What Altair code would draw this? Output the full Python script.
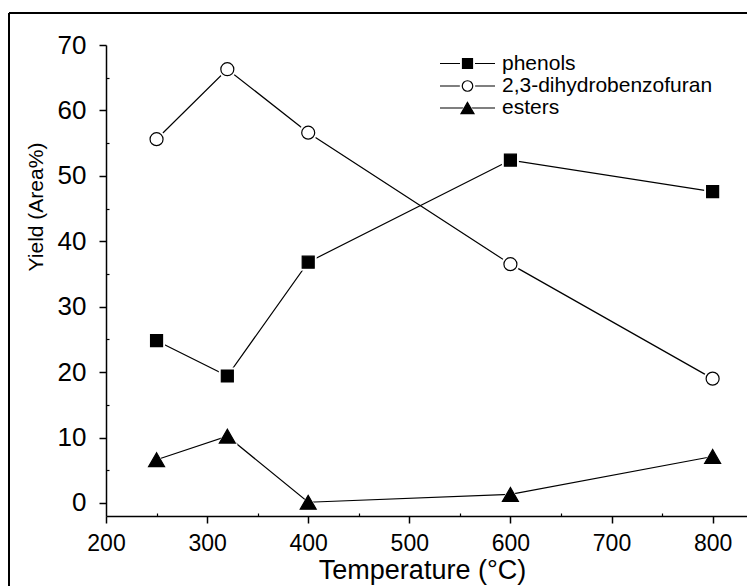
import altair as alt
import pandas as pd

# ---- data ----
temps = [250, 320, 400, 600, 800]
phenols = [24.8, 19.4, 36.8, 52.4, 47.6]
dihydrobenzofuran = [55.6, 66.3, 56.6, 36.5, 19.0]
esters = [6.6, 10.2, 0.1, 1.3, 7.1]
series_names = ["phenols", "2,3-dihydrobenzofuran", "esters"]
x_ticks = [200, 300, 400, 500, 600, 700, 800]
y_ticks = [0, 10, 20, 30, 40, 50, 60, 70]
x_minor = [250, 350, 450, 550, 650, 750]
y_minor = [5, 15, 25, 35, 45, 55, 65]
x_title = "Temperature (°C)"
y_title = "Yield (Area%)"

W, H = 641, 471
FONT = "Liberation Sans"

xs = alt.Scale(domain=[200, 834], nice=False, zero=False)
ys = alt.Scale(domain=[-2, 70], nice=False, zero=False)

main_x_axis = alt.Axis(
    values=x_ticks, format="d", grid=False, labelFlush=False,
    tickSize=7, tickWidth=1.5, tickColor="black",
    domainWidth=1.5, domainColor="black",
    labelFont=FONT, labelFontSize=23, labelColor="black", labelPadding=9,
    titleFont=FONT, titleFontSize=27, titleFontWeight="normal", titleColor="black",
    titleX=316, titleY=62, titleBaseline="alphabetic", titleAlign="center",
)
main_y_axis = alt.Axis(
    values=y_ticks, format="d", grid=False, labelFlush=False,
    tickSize=7, tickWidth=1.5, tickColor="black",
    domainWidth=1.5, domainColor="black",
    labelFont=FONT, labelFontSize=26, labelColor="black", labelPadding=13,
)
minor_x_axis = alt.Axis(
    orient="top", offset=-H, values=x_minor, labels=False, domain=False,
    grid=False, tickSize=3, tickWidth=1.2, tickColor="black",
)
minor_y_axis = alt.Axis(
    orient="right", offset=-W, values=y_minor, labels=False, domain=False,
    grid=False, tickSize=3, tickWidth=1.2, tickColor="black",
)

def frame(values):
    return pd.DataFrame({"T": temps, "Yield": values})

styles = [
    # (values, shape, marker size, halo size, fill)
    (phenols, "square", 144, 289, "black"),
    (dihydrobenzofuran, "circle", 169, 324, "white"),
    (esters, "triangle-up", 256, 441, "black"),
]

layers = []

# outer figure frame (top and left edges visible)
one = alt.Data(values=[{}])
layers.append(alt.Chart(one).mark_rule(color="black", strokeWidth=2).encode(
    x=alt.value(-97), x2=alt.value(W + 50), y=alt.value(-32)))
layers.append(alt.Chart(one).mark_rule(color="black", strokeWidth=2).encode(
    x=alt.value(-97), y=alt.value(-32), y2=alt.value(H + 120)))

# y axis title as rotated text
layers.append(alt.Chart(one).mark_text(text=y_title, angle=270, align="center",
                                       baseline="alphabetic", font=FONT, fontSize=21,
                                       color="black").encode(
    x=alt.value(-63), y=alt.value(162)))

for i, (vals, shape, size, halo, fill) in enumerate(styles):
    df = frame(vals)
    if i == 0:
        lx = alt.X("T:Q", scale=xs, axis=minor_x_axis, title=None)
        ly = alt.Y("Yield:Q", scale=ys, axis=minor_y_axis, title=None)
    else:
        lx = alt.X("T:Q", scale=xs, axis=None)
        ly = alt.Y("Yield:Q", scale=ys, axis=None)
    layers.append(alt.Chart(df).mark_line(color="black", strokeWidth=1.2).encode(x=lx, y=ly))

for i, (vals, shape, size, halo, fill) in enumerate(styles):
    df = frame(vals)
    layers.append(alt.Chart(df).mark_point(shape=shape, size=halo, filled=True,
                                           color="white", opacity=1).encode(
        x=alt.X("T:Q", scale=xs, axis=None), y=alt.Y("Yield:Q", scale=ys, axis=None)))

for i, (vals, shape, size, halo, fill) in enumerate(styles):
    df = frame(vals)
    if i == 0:
        px = alt.X("T:Q", scale=xs, axis=main_x_axis, title=x_title)
        py = alt.Y("Yield:Q", scale=ys, axis=main_y_axis, title=None)
    else:
        px = alt.X("T:Q", scale=xs, axis=None)
        py = alt.Y("Yield:Q", scale=ys, axis=None)
    layers.append(alt.Chart(df).mark_point(shape=shape, size=size, filled=True, fill=fill,
                                           stroke="black", strokeWidth=1.2, opacity=1).encode(x=px, y=py))

# manual legend
leg_rows = [18.5, 41, 63]
leg_sizes = [100, 110, 169]
for i, (name, row) in enumerate(zip(series_names, leg_rows)):
    shape, fill = styles[i][1], styles[i][4]
    s = leg_sizes[i]
    layers.append(alt.Chart(one).mark_rule(color="black", strokeWidth=1.2).encode(
        x=alt.value(334), x2=alt.value(389), y=alt.value(row)))
    layers.append(alt.Chart(one).mark_point(shape=shape, size=(s ** 0.5 + 5) ** 2, filled=True,
                                            color="white", opacity=1).encode(
        x=alt.value(361.5), y=alt.value(row)))
    layers.append(alt.Chart(one).mark_point(shape=shape, size=s, filled=True, fill=fill,
                                            stroke="black", strokeWidth=1.2, opacity=1).encode(
        x=alt.value(361.5), y=alt.value(row)))
    layers.append(alt.Chart(one).mark_text(text=name, align="left", baseline="middle",
                                           font=FONT, fontSize=21, color="black").encode(
        x=alt.value(396), y=alt.value(row)))

chart = alt.layer(*layers).resolve_axis(x="independent", y="independent").properties(
    width=W, height=H,
    autosize=alt.AutoSizeParams(type="none"),
    padding={"left": 98, "top": 37, "right": 0, "bottom": 70},
    background="white",
).configure_view(strokeWidth=0)

chart.save("out.html", embed_options={"renderer": "svg", "actions": False})
